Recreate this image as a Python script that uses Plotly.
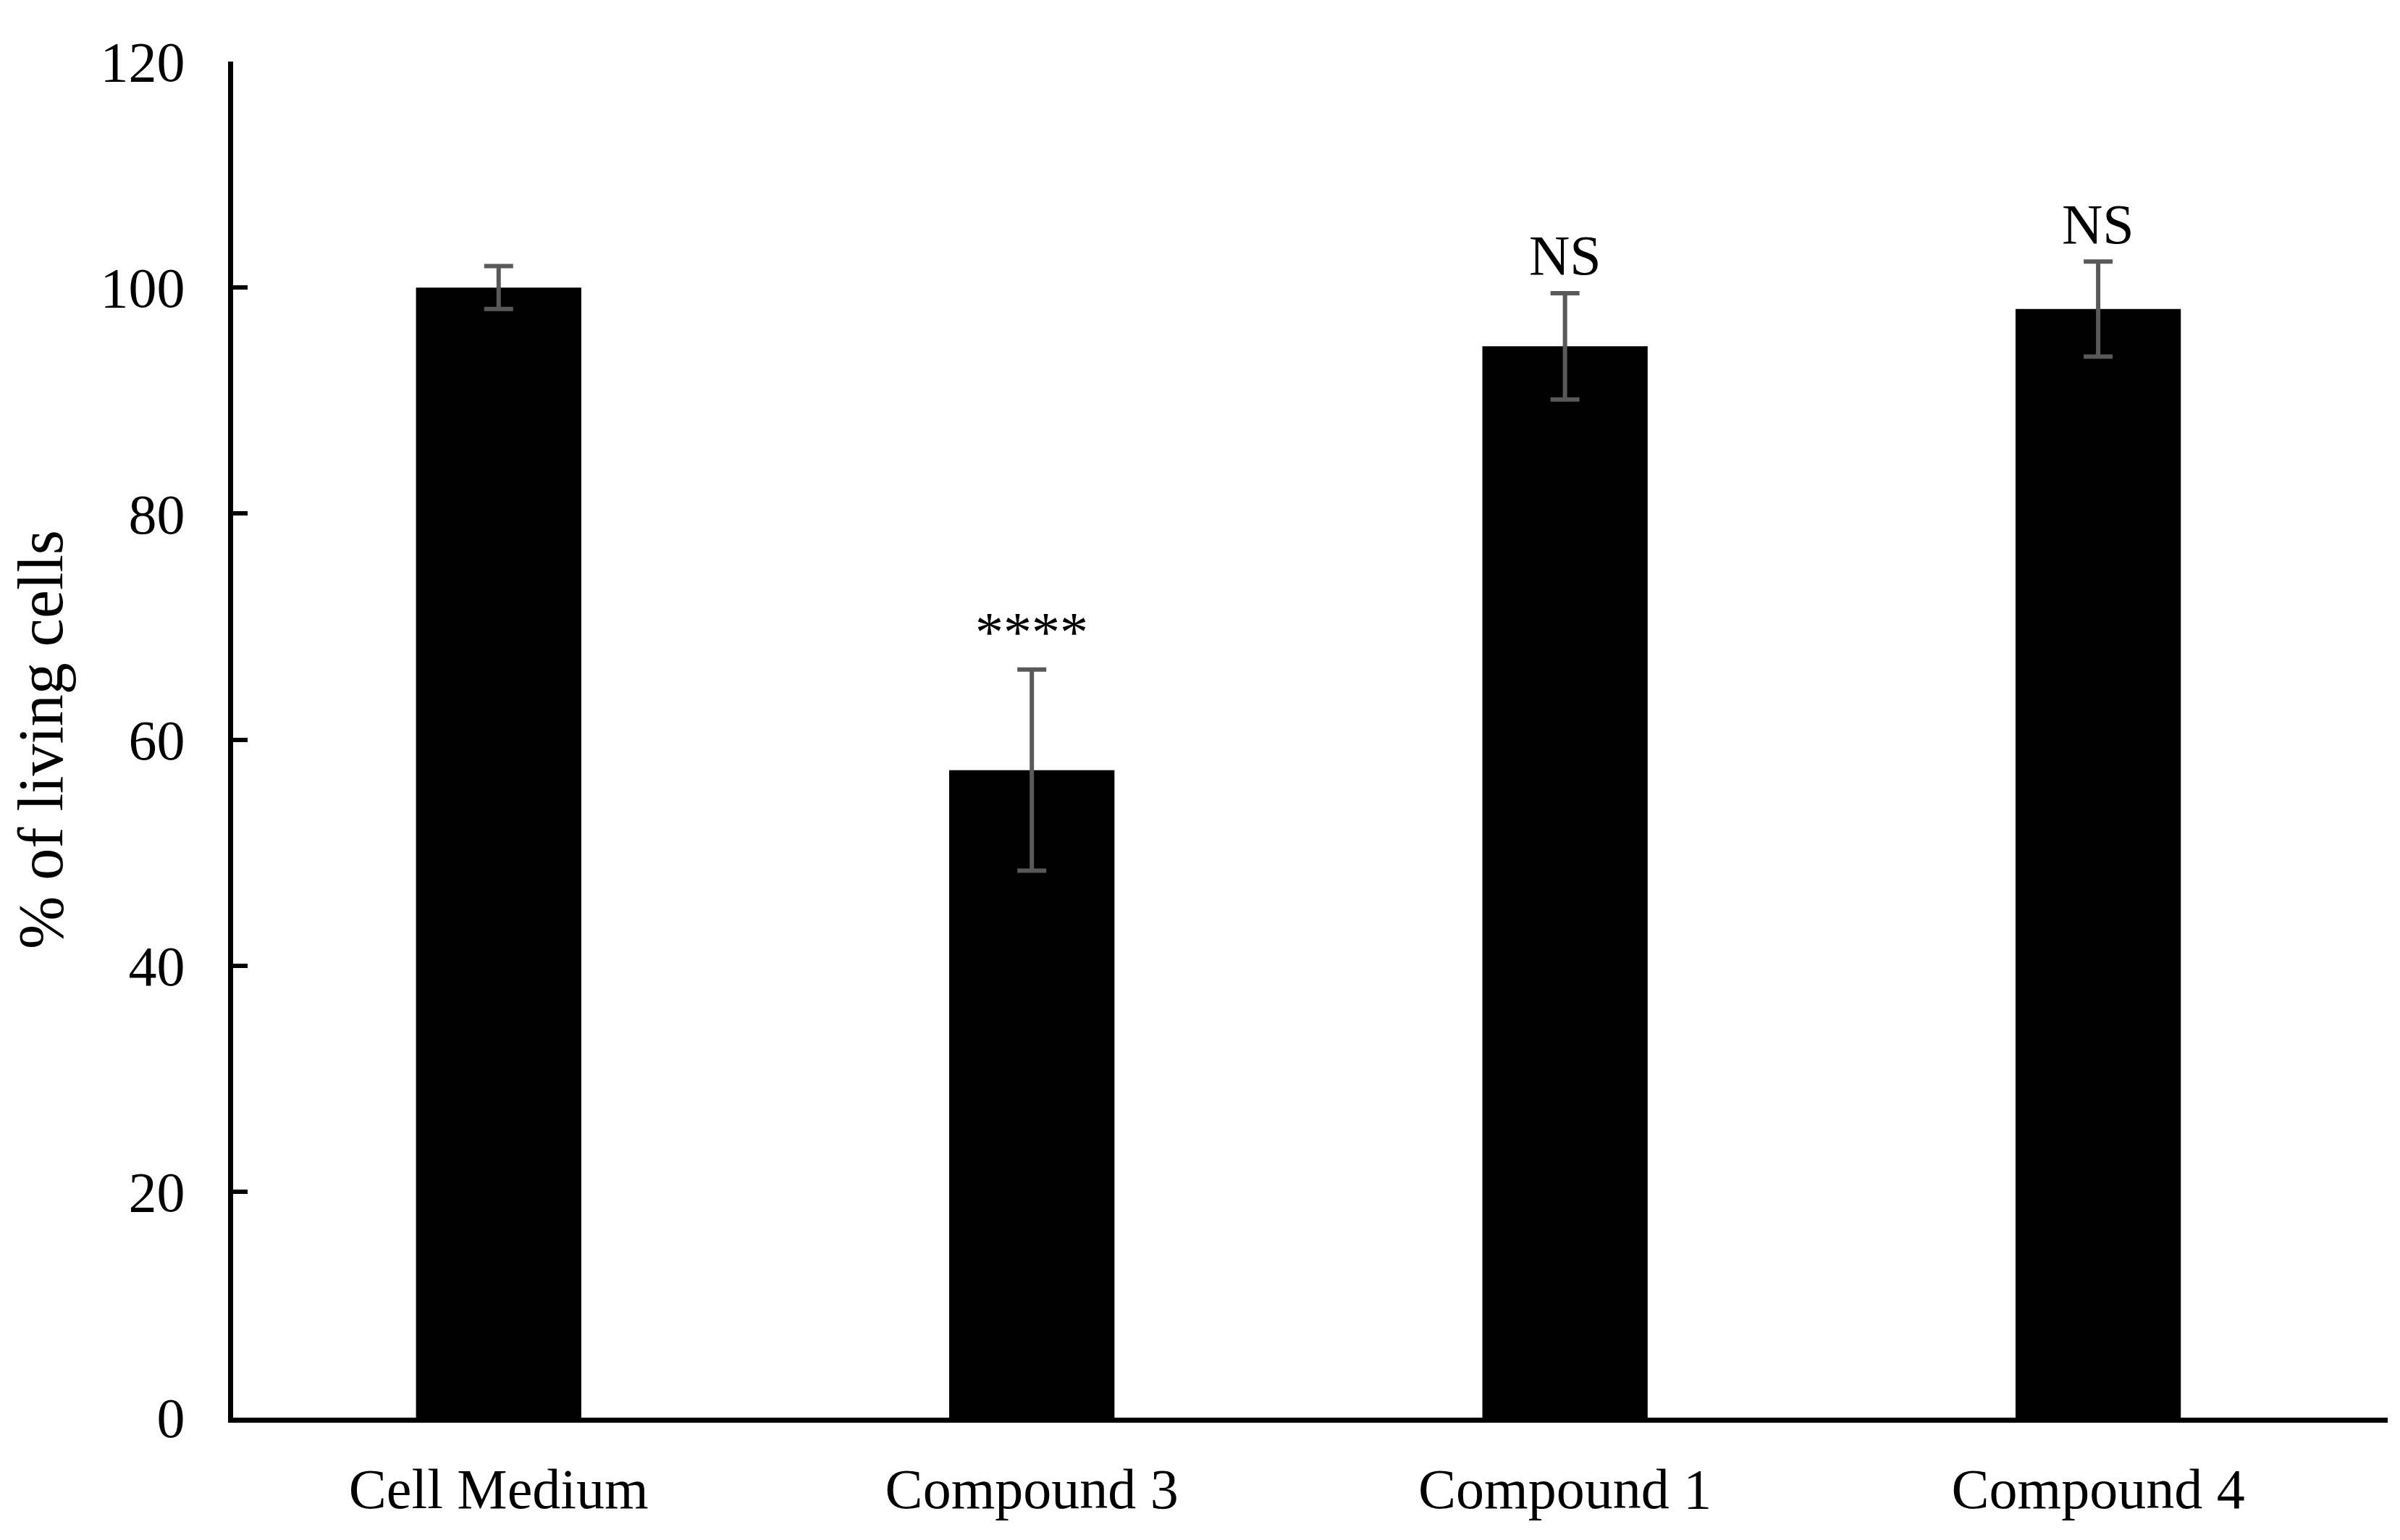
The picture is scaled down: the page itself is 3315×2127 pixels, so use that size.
import plotly.graph_objects as go

categories = ["Cell Medium", "Compound 3", "Compound 1", "Compound 4"]
living_pct = [100.0, 57.3, 94.8, 98.1]
sd_err = [1.9, 8.9, 4.7, 4.2]
significance = ["", "****", "NS", "NS"]
y_ticks = [0, 20, 40, 60, 80, 100, 120]

FONT = "Liberation Serif, Times New Roman, serif"

fig = go.Figure()
fig.add_trace(go.Bar(
    x=categories,
    y=living_pct,
    width=0.31,
    marker=dict(color="black", line=dict(width=0)),
    error_y=dict(type="data", array=sd_err, visible=True,
                 color="#595959", thickness=6, width=20),
    showlegend=False,
))

for cat, v, e, s in zip(categories, living_pct, sd_err, significance):
    if s:
        fig.add_annotation(x=cat, y=v + e, text=s, showarrow=False,
                           yanchor="middle", yshift=52,
                           font=dict(family=FONT, size=78, color="black"))

# page body has an 8px default margin; margins compensate for it
fig.update_layout(
    width=3315, height=2127,
    paper_bgcolor="white", plot_bgcolor="white",
    margin=dict(l=314, r=25, t=77, b=177, pad=0),
    font=dict(family=FONT, size=78, color="black"),
)
fig.update_xaxes(
    type="category",
    range=[-0.498, 3.543],
    showline=True, linecolor="black", linewidth=7,
    ticks="", showgrid=False, zeroline=False,
    tickfont=dict(family=FONT, size=78, color="black"),
    ticklabelstandoff=24,
)
fig.update_yaxes(
    range=[0, 120],
    tickvals=y_ticks,
    showline=True, linecolor="black", linewidth=7,
    ticks="inside", ticklen=20, tickwidth=6, tickcolor="black",
    showgrid=False, zeroline=False,
    tickfont=dict(family=FONT, size=78, color="black"),
    ticklabelstandoff=44,
    title=dict(text="% of living cells", standoff=45,
               font=dict(family=FONT, size=88, color="black")),
)

fig.write_html("out.html")
